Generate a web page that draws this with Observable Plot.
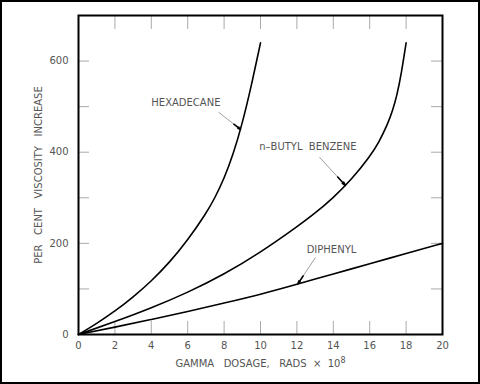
<!DOCTYPE html>
<html><head><meta charset="utf-8">
<script src="https://cdn.jsdelivr.net/npm/d3@7"></script>
<script src="https://cdn.jsdelivr.net/npm/@observablehq/plot@0.6"></script>
<style>
body{margin:0;background:#fff}
#wrap{position:relative;width:480px;height:384px;overflow:hidden}
#border{position:absolute;left:0;top:0;width:480px;height:384px;box-sizing:border-box;border:2px solid #000;pointer-events:none}
</style></head><body><div id="wrap"><div id="border"></div></div>
<script>
// Data
const hexadecaneDose = [0, 1, 2, 3, 4, 5, 6, 7, 7.5, 8, 8.5, 9, 9.5, 10];
const hexadecaneIncrease = [0, 24, 51, 82, 117, 158, 207, 265, 300, 342, 395, 463, 546, 640];
const butylDose = [0, 2, 4, 6, 8, 10, 12, 13, 14, 15, 16, 16.5, 17, 17.25, 17.5, 17.75, 18];
const butylIncrease = [0, 28, 58, 92, 132, 180, 236, 266, 300, 340, 390, 421, 463, 490, 525, 575, 640];
const diphenylDose = [0, 2, 4, 6, 8, 10, 12, 14, 16, 18, 20];
const diphenylIncrease = [0, 16, 33, 50, 69, 88, 110, 133, 155, 178, 200];

const xTickLabels = [0, 2, 4, 6, 8, 10, 12, 14, 16, 18, 20];
const xInnerTicks = [2, 4, 6, 8, 10, 12, 14, 16, 18];
const yTickLabels = [0, 200, 400, 600];
const yInnerTicks = [100, 200, 300, 400, 500, 600];

const xTitle = "GAMMA\u00a0\u00a0\u00a0DOSAGE,\u00a0\u00a0\u00a0RADS\u00a0\u00a0\u00d7\u00a0\u00a010";
const xTitleExponent = "8";
const yTitle = "PER\u00a0\u00a0\u00a0CENT\u00a0\u00a0\u00a0VISCOSITY\u00a0\u00a0\u00a0INCREASE";

// annotations: label position, leader start, arrow tip (data coordinates)
const annLabels = ["HEXADECANE", "n\u2013BUTYL\u00a0\u00a0BENZENE", "DIPHENYL"];
const annLabelX = [5.9, 12.6, 13.9];
const annLabelY = [508, 412, 185];
const annFromX = [7.69, 13.24, 13.02];
const annFromY = [488, 389, 169];
const annTipX = [8.9, 14.67, 12.05];
const annTipY = [450, 327, 111];

const rows = [
  ...hexadecaneDose.map((d, i) => ({series: "HEXADECANE", dose: d, inc: hexadecaneIncrease[i]})),
  ...butylDose.map((d, i) => ({series: "n-BUTYL BENZENE", dose: d, inc: butylIncrease[i]})),
  ...diphenylDose.map((d, i) => ({series: "DIPHENYL", dose: d, inc: diphenylIncrease[i]}))
];
const ann = annLabels.map((t, i) => ({
  text: t, lx: annLabelX[i], ly: annLabelY[i],
  fx: annFromX[i], fy: annFromY[i], tx: annTipX[i], ty: annTipY[i],
  hx: annTipX[i] + (annFromX[i] - annTipX[i]) * 0.3,
  hy: annTipY[i] + (annFromY[i] - annTipY[i]) * 0.3
}));

const textFill = "#555";
const chart = Plot.plot({
  width: 480,
  height: 384,
  marginLeft: 78,
  marginRight: 38,
  marginTop: 15,
  marginBottom: 50,
  style: {fontFamily: "DejaVu Sans", fontSize: "10px", background: "transparent"},
  x: {domain: [0, 20]},
  y: {domain: [0, 700]},
  marks: [
    Plot.ruleX(xInnerTicks, {stroke: "#aaa", strokeWidth: 1, insetTop: 306}),
    Plot.ruleX(xInnerTicks, {stroke: "#aaa", strokeWidth: 1, insetBottom: 305}),
    Plot.ruleY(yInnerTicks, {stroke: "#aaa", strokeWidth: 1, insetRight: 353}),
    Plot.ruleY(yInnerTicks, {stroke: "#aaa", strokeWidth: 1, insetLeft: 353}),
    Plot.axisX(xTickLabels, {tickSize: 0, tickPadding: 7, fill: textFill, label: null}),
    Plot.axisY(yTickLabels, {tickSize: 0, tickPadding: 10, fill: textFill, label: null}),
    Plot.text([xTitle], {frameAnchor: "bottom", dy: 29, fill: textFill, lineAnchor: "middle", textAnchor: "middle"}),
    Plot.text([yTitle], {frameAnchor: "left", dx: -40, rotate: -90, fill: textFill, lineAnchor: "middle", textAnchor: "middle"}),
    Plot.line(rows, {x: "dose", y: "inc", z: "series", curve: "basis", stroke: "#000", strokeWidth: 1.6}),
    Plot.link(ann, {x1: "fx", y1: "fy", x2: "tx", y2: "ty", stroke: "#888", strokeWidth: 0.8}),
    Plot.arrow(ann, {x1: "hx", y1: "hy", x2: "tx", y2: "ty", stroke: "#000", strokeWidth: 1.6, headLength: 7, headAngle: 28}),
    Plot.text(ann, {x: "lx", y: "ly", text: "text", fill: textFill}),
    Plot.frame({stroke: "#000", strokeWidth: 2})
  ]
});
// raise the exponent of the x title as a superscript
d3.select(chart).selectAll("text").filter(function() { return this.textContent === xTitle; })
  .each(function() {
    d3.select(this).append("tspan").attr("dy", "-0.45em").attr("font-size", "8px").text(xTitleExponent);
  });
document.getElementById("wrap").prepend(chart);
</script>
</body></html>
